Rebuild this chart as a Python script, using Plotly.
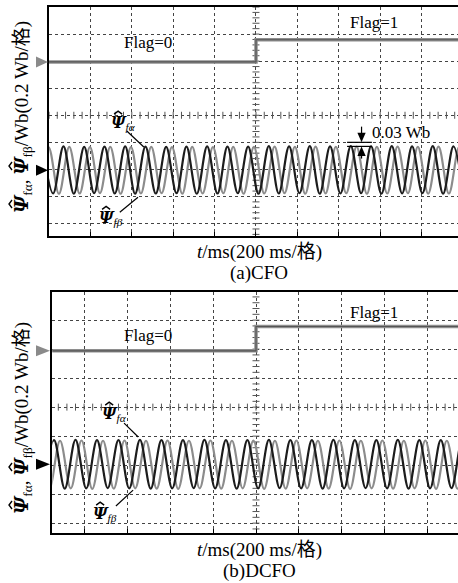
import plotly.graph_objects as go

# ---------------- data (units: oscilloscope divisions) ----------------
# Panel (a) CFO
a_flag_t = [-5.2, 0.0, 0.0, 5.0]
a_flag_v = [1.97, 1.97, 2.79, 2.79]
a_alpha_t = [-5.15, -4.90, -4.65, -4.40, -4.15, -3.91, -3.66, -3.41, -3.16, -2.92,
             -2.67, -2.42, -2.17, -1.92, -1.68, -1.43, -1.18, -0.93, -0.69, -0.44,
             -0.19, 0.06, 0.31, 0.55, 0.80, 1.05, 1.30, 1.54, 1.79, 2.04,
             2.29, 2.54, 2.78, 3.03, 3.28, 3.53, 3.77, 4.02, 4.27, 4.52, 4.77, 5.01]
a_alpha_v = [-1.16, -2.89, -1.15, -2.90, -1.17, -2.88, -1.16, -2.89, -1.15, -2.90,
             -1.16, -2.89, -1.17, -2.88, -1.16, -2.90, -1.15, -2.89, -1.16, -2.88,
             -1.16, -2.90, -1.14, -2.89, -1.15, -2.88, -1.14, -2.90, -1.15, -2.89,
             -1.14, -2.88, -1.15, -2.90, -1.14, -2.89, -1.15, -2.88, -1.14, -2.90, -1.15, -2.89]
a_beta_t = [-5.26, -5.01, -4.76, -4.51, -4.26, -4.01, -3.77, -3.52, -3.27, -3.02, -2.78,
            -2.53, -2.28, -2.03, -1.78, -1.54, -1.29, -1.04, -0.79, -0.55, -0.30,
            -0.05, 0.20, 0.45, 0.69, 0.94, 1.19, 1.44, 1.68, 1.93, 2.18,
            2.43, 2.68, 2.92, 3.17, 3.42, 3.67, 3.91, 4.16, 4.41, 4.66, 4.91, 5.15]
a_beta_v = [-2.88, -1.18, -2.90, -1.17, -2.89, -1.18, -2.88, -1.17, -2.90, -1.18, -2.89,
            -1.17, -2.88, -1.18, -2.90, -1.17, -2.89, -1.18, -2.88, -1.17, -2.90,
            -1.17, -2.89, -1.16, -2.88, -1.17, -2.90, -1.16, -2.89, -1.17, -2.88,
            -1.16, -2.90, -1.17, -2.89, -1.16, -2.88, -1.17, -2.90, -1.16, -2.89, -1.17, -2.88]

# Panel (b) DCFO
b_flag_t = [-5.0, 0.0, 0.0, 5.0]
b_flag_v = [1.94, 1.94, 2.78, 2.78]
b_alpha_t = [-4.95, -4.70, -4.45, -4.20, -3.95, -3.70, -3.45, -3.20, -2.95, -2.70,
             -2.45, -2.20, -1.95, -1.70, -1.45, -1.20, -0.95, -0.70, -0.45, -0.20,
             0.05, 0.30, 0.55, 0.80, 1.05, 1.30, 1.55, 1.80, 2.05, 2.30,
             2.55, 2.80, 3.05, 3.30, 3.55, 3.80, 4.05, 4.30, 4.55, 4.80, 5.05]
b_alpha_v = [-2.80, -1.14, -2.81, -1.13, -2.80, -1.14, -2.79, -1.14, -2.80, -1.13,
             -2.81, -1.14, -2.80, -1.14, -2.79, -1.13, -2.80, -1.14, -2.81, -1.14,
             -2.80, -1.13, -2.79, -1.14, -2.80, -1.14, -2.81, -1.13, -2.80, -1.14,
             -2.79, -1.14, -2.80, -1.13, -2.81, -1.14, -2.80, -1.14, -2.79, -1.13, -2.80]
b_beta_t = [-5.06, -4.81, -4.56, -4.31, -4.06, -3.81, -3.56, -3.31, -3.06, -2.81, -2.56,
            -2.31, -2.06, -1.81, -1.56, -1.31, -1.06, -0.81, -0.56, -0.31, -0.06,
            0.19, 0.44, 0.69, 0.94, 1.19, 1.44, 1.69, 1.94, 2.19, 2.44,
            2.69, 2.94, 3.19, 3.44, 3.69, 3.94, 4.19, 4.44, 4.69, 4.94]
b_beta_v = [-1.15, -2.81, -1.16, -2.80, -1.15, -2.82, -1.16, -2.81, -1.15, -2.80, -1.16,
            -2.81, -1.15, -2.82, -1.16, -2.80, -1.15, -2.81, -1.16, -2.80, -1.15,
            -2.82, -1.16, -2.81, -1.15, -2.80, -1.16, -2.81, -1.15, -2.82, -1.16,
            -2.80, -1.15, -2.81, -1.16, -2.80, -1.15, -2.82, -1.16, -2.81, -1.15]

# reference level markers (left side triangles): flag level, flux centre
a_marker_levels = [1.97, -2.03]
b_marker_levels = [1.94, -1.97]

W, H = 458, 583
SERIF = "Liberation Serif, Times New Roman, Noto Sans CJK SC, serif"
DARK = "#1c1c1c"
GRAY = "#8c8c8c"

A_LEFT, A_TOP, A_BOT = 49, 7, 236
B_LEFT, B_TOP, B_BOT = 52.3, 291.7, 533
A_XR = [-5.0, 4.88]
A_YR = [-4.46, 4.0]
B_XR = [-4.74, 4.70]
B_YR = [-4.34, 3.98]

fig = go.Figure()


def add_panel(xa, ya, flag_t, flag_v, al_t, al_v, be_t, be_v, xr, yr):
    ticks_x = [i / 5 for i in range(-26, 26) if xr[0] <= i / 5 <= xr[1]]
    ticks_y = [i / 5 for i in range(-23, 21) if yr[0] <= i / 5 <= yr[1]]
    fig.add_trace(go.Scatter(x=ticks_x, y=[0] * len(ticks_x), mode="markers", xaxis=xa, yaxis=ya,
                             marker=dict(symbol="line-ns", size=5, line=dict(width=1, color="#555")),
                             hoverinfo="skip", showlegend=False))
    fig.add_trace(go.Scatter(x=[0] * len(ticks_y), y=ticks_y, mode="markers", xaxis=xa, yaxis=ya,
                             marker=dict(symbol="line-ew", size=5, line=dict(width=1, color="#555")),
                             hoverinfo="skip", showlegend=False))
    fig.add_trace(go.Scatter(x=flag_t, y=flag_v, mode="lines", xaxis=xa, yaxis=ya,
                             line=dict(color="#8e8e8e", width=3.5), hoverinfo="skip", showlegend=False))
    fig.add_trace(go.Scatter(x=flag_t, y=flag_v, mode="lines", xaxis=xa, yaxis=ya,
                             line=dict(color="#555555", width=1.2), hoverinfo="skip", showlegend=False))
    fig.add_trace(go.Scatter(x=be_t, y=be_v, mode="lines", xaxis=xa, yaxis=ya,
                             line=dict(color=GRAY, width=2.2, shape="spline", smoothing=1.0),
                             showlegend=False))
    fig.add_trace(go.Scatter(x=al_t, y=al_v, mode="lines", xaxis=xa, yaxis=ya,
                             line=dict(color=DARK, width=2.2, shape="spline", smoothing=1.0),
                             showlegend=False))


add_panel("x", "y", a_flag_t, a_flag_v, a_alpha_t, a_alpha_v, a_beta_t, a_beta_v, A_XR, A_YR)
add_panel("x2", "y2", b_flag_t, b_flag_v, b_alpha_t, b_alpha_v, b_beta_t, b_beta_v, B_XR, B_YR)

grid = dict(showgrid=True, gridcolor="#444", gridwidth=1, griddash="3px,3px", dtick=1, tick0=0,
            zeroline=False, showticklabels=False, fixedrange=True)

fig.update_layout(
    width=W, height=H, margin=dict(l=0, r=0, t=0, b=0),
    paper_bgcolor="white", plot_bgcolor="white",
    xaxis=dict(domain=[A_LEFT / W, 1], range=A_XR, anchor="y", showline=True, linecolor="black",
               linewidth=1.5, mirror=True, ticks="inside", ticklen=4, tickcolor="black", **grid),
    yaxis=dict(domain=[1 - A_BOT / H, 1 - A_TOP / H], range=A_YR, anchor="x", showline=True,
               linecolor="black", linewidth=1.5, ticks="", **grid),
    xaxis2=dict(domain=[B_LEFT / W, 1], range=B_XR, anchor="y2", showline=True, linecolor="black",
                linewidth=1.5, mirror=True, ticks="inside", ticklen=4, tickcolor="black", **grid),
    yaxis2=dict(domain=[1 - B_BOT / H, 1 - B_TOP / H], range=B_YR, anchor="x2", showline=True,
                linecolor="black", linewidth=1.5, ticks="", **grid),
)

PSI = "<span style='font-family:DejaVu Serif'><b><i>Ψ</i></b></span>"
PSI_A = PSI + "<sub><i>fα</i></sub>"
PSI_B = PSI + "<sub><i>fβ</i></sub>"
PSI_BIG = "<span style='font-family:DejaVu Serif;font-size:19px'><b><i>Ψ</i></b></span>"
ytitle = PSI_BIG + "<sub>fα</sub>, " + PSI_BIG + "<sub>fβ</sub>/Wb(0.2 Wb/格)"

TITLE_X = 22
ann = []
for yc in (117, 418):
    ann.append(dict(xref="paper", yref="paper", x=TITLE_X / W, y=1 - yc / H, text=ytitle, textangle=-90,
                    showarrow=False, xanchor="center", yanchor="middle",
                    font=dict(family=SERIF, size=19, color="black")))
for (yc, sub) in ((252, "(a)CFO"), (550, "(b)DCFO")):
    ann.append(dict(xref="paper", yref="paper", x=259 / W, y=1 - yc / H,
                    text="<i>t</i>/ms(200 ms/格)", showarrow=False, xanchor="center", yanchor="middle",
                    font=dict(family=SERIF, size=19, color="black")))
    ann.append(dict(xref="paper", yref="paper", x=259 / W, y=1 - (yc + 21) / H,
                    text=sub, showarrow=False, xanchor="center", yanchor="middle",
                    font=dict(family=SERIF, size=19, color="black")))

for (xa, ya, x, y, t) in (("x", "y", -2.62, 2.68, "Flag=0"), ("x", "y", 2.85, 3.42, "Flag=1"),
                          ("x2", "y2", -2.52, 2.48, "Flag=0"), ("x2", "y2", 2.74, 3.28, "Flag=1")):
    ann.append(dict(xref=xa, yref=ya, x=x, y=y, text=t, showarrow=False,
                    font=dict(family=SERIF, size=17, color="black")))

labels = (("x", "y", -3.21, -0.29, PSI_A), ("x", "y", -3.50, -3.81, PSI_B),
          ("x2", "y2", -3.30, -0.24, PSI_A), ("x2", "y2", -3.51, -3.69, PSI_B))
for (xa, ya, x, y, t) in labels:
    ann.append(dict(xref=xa, yref=ya, x=x, y=y, text=t, showarrow=False,
                    font=dict(family=SERIF, size=16, color="black")))

ann.append(dict(xref="x", yref="y", x=2.75, y=-0.62, text="0.03 Wb", showarrow=False, xanchor="left",
                font=dict(family=SERIF, size=17, color="black")))
fig.update_layout(annotations=ann)

shapes = []
line_segs = (("x", "y", -3.12, -0.58, -2.71, -1.17), ("x", "y", -3.29, -3.58, -2.85, -3.03),
             ("x2", "y2", -3.07, -0.55, -2.74, -1.03), ("x2", "y2", -3.26, -3.41, -2.86, -2.86),
             ("x", "y", 2.2, -1.0, 2.8, -1.0), ("x", "y", 2.2, -1.15, 2.8, -1.15),
             ("x", "y", 2.55, -0.42, 2.55, -0.75), ("x", "y", 2.55, -1.45, 2.55, -1.6))
for (xa, ya, x0, y0, x1, y1) in line_segs:
    shapes.append(dict(type="line", xref=xa, yref=ya, x0=x0, y0=y0, x1=x1, y1=y1,
                       line=dict(color="black", width=1.2)))
shapes.append(dict(type="path", xref="x", yref="y", path="M 2.45,-0.65 L 2.65,-0.65 L 2.55,-1.0 Z",
                   fillcolor="black", line=dict(width=0)))
shapes.append(dict(type="path", xref="x", yref="y", path="M 2.45,-1.5 L 2.65,-1.5 L 2.55,-1.15 Z",
                   fillcolor="black", line=dict(width=0)))

# hats over the Psi symbols of the labels (pixel-sized chevrons)
for (xa, ya, x, y, t) in labels:
    shapes.append(dict(type="path", xref=xa, yref=ya, xsizemode="pixel", ysizemode="pixel",
                       xanchor=x, yanchor=y, path="M -9,9 L -5,12 L -1,9",
                       line=dict(color="black", width=1.4)))
# hats over the Psi symbols of the rotated y titles (chevrons pointing left)
for yc in (117, 418):
    for dy in (87, 49):
        shapes.append(dict(type="path", xref="paper", yref="paper", xsizemode="pixel", ysizemode="pixel",
                           xanchor=TITLE_X / W, yanchor=1 - yc / H,
                           path=f"M -10,{-dy - 4} L -13,{-dy} L -10,{-dy + 4}",
                           line=dict(color="black", width=1.4)))


def tri(yref, level, color, x_left_px, x_tip_px, yrange, top_px, bot_px):
    half = 5.5 * (yrange[1] - yrange[0]) / (bot_px - top_px)
    return dict(type="path", xref="paper", yref=yref,
                path=f"M {x_left_px / W},{level + half} L {x_tip_px / W},{level} L {x_left_px / W},{level - half} Z",
                fillcolor=color, line=dict(width=0), layer="above")


shapes.append(tri("y", a_marker_levels[0], "#8a8a8a", 36, 48, A_YR, A_TOP, A_BOT))
shapes.append(tri("y", a_marker_levels[1], "#000000", 36, 48, A_YR, A_TOP, A_BOT))
shapes.append(tri("y2", b_marker_levels[0], "#8a8a8a", 36, 50, B_YR, B_TOP, B_BOT))
shapes.append(tri("y2", b_marker_levels[1], "#000000", 36, 50, B_YR, B_TOP, B_BOT))
fig.update_layout(shapes=shapes)

fig.write_html("out.html")
